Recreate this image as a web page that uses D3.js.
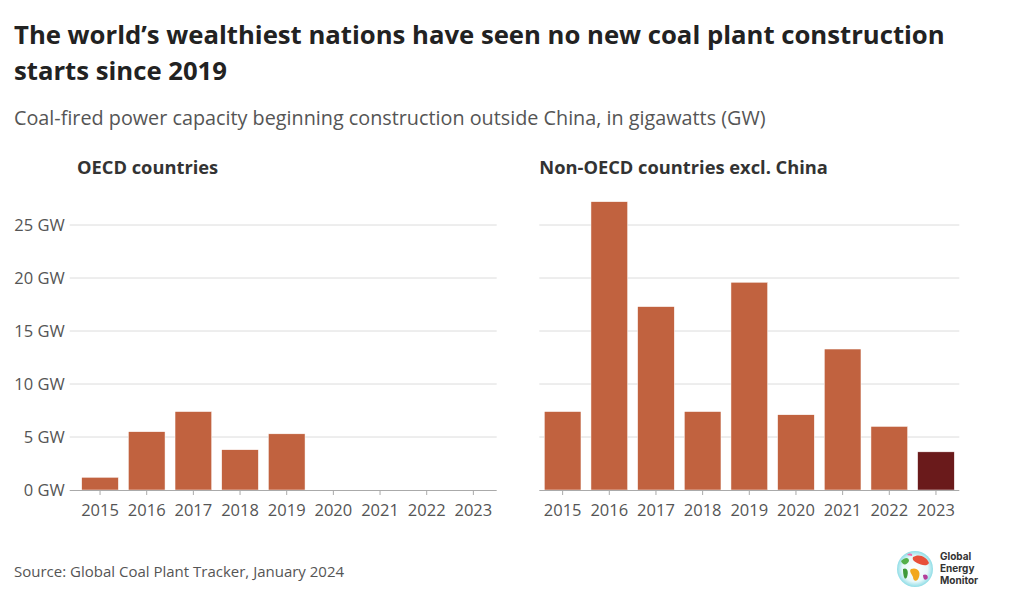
<!DOCTYPE html>
<html><head><meta charset="utf-8">
<script src="https://cdn.jsdelivr.net/npm/d3@7"></script>
<style>
body{margin:0;background:#fff;}
svg{display:block;font-family:"Open Sans",sans-serif;}
</style></head>
<body>
<svg id="chart" width="1024" height="604"></svg>
<script>
const years = ["2015","2016","2017","2018","2019","2020","2021","2022","2023"];
const oecdValues = [1.2, 5.5, 7.4, 3.8, 5.3, 0, 0, 0, 0];
const nonOecdValues = [7.4, 27.2, 17.3, 7.4, 19.6, 7.1, 13.3, 6.0, 3.6];
const yTicks = [0, 5, 10, 15, 20, 25];
const panelTitles = ["OECD countries", "Non-OECD countries excl. China"];

const svg = d3.select("#chart");
svg.append("rect").attr("width",1024).attr("height",604).attr("fill","#fff");

svg.append("text").attr("x",14).attr("y",44).attr("font-size",25.7).attr("font-weight",700).attr("fill","#222")
  .text("The world\u2019s wealthiest nations have seen no new coal plant construction");
svg.append("text").attr("x",14).attr("y",80).attr("font-size",25.7).attr("font-weight",700).attr("fill","#222")
  .text("starts since 2019");
svg.append("text").attr("x",14).attr("y",125).attr("font-size",19.8).attr("fill","#555")
  .text("Coal-fired power capacity beginning construction outside China, in gigawatts (GW)");

const y = d3.scaleLinear().domain([0,25]).range([490,225]);

function panel(values, x0, x1, title, showY, highlightLast){
  const x = d3.scaleBand().domain(years).range([x0,x1]).paddingInner(0.214).paddingOuter(0.107);
  const g = svg.append("g");
  const gridStart = showY ? x0-7 : x0;
  g.selectAll("line.grid").data(yTicks.filter(t=>t>0)).join("line")
    .attr("x1",gridStart).attr("x2",x1).attr("y1",d=>y(d)).attr("y2",d=>y(d))
    .attr("stroke","#dcdcdc").attr("stroke-width",1);
  if(showY){
    const ya = g.append("g").attr("transform",`translate(${x0-7},0)`)
      .call(d3.axisLeft(y).tickValues(yTicks).tickSize(0).tickPadding(5).tickFormat(d=>d+" GW"));
    ya.select(".domain").remove();
    ya.selectAll("text").attr("font-size",16.5).attr("fill","#555").attr("font-family","Open Sans, sans-serif");
  }
  g.selectAll("rect.bar").data(values).join("rect")
    .attr("x",(d,i)=>x(years[i])).attr("width",x.bandwidth())
    .attr("y",d=>y(d)).attr("height",d=>y(0)-y(d))
    .attr("fill",(d,i)=> highlightLast && i===values.length-1 ? "#6a1a1b" : "#c1623f")
    .attr("stroke","#fff").attr("stroke-width",0.5);
  const xa = g.append("g").attr("transform",`translate(0,${y(0)})`)
    .call(d3.axisBottom(x).tickSize(5).tickPadding(9));
  xa.select(".domain").attr("d",`M${showY?x0-7:x0},0.5H${x1}`).attr("stroke","#aaa");
  xa.selectAll(".tick line").attr("stroke","#aaa");
  xa.selectAll("text").attr("font-size",16.5).attr("fill","#555").attr("font-family","Open Sans, sans-serif");
  svg.append("text").attr("x", showY ? 77 : x0).attr("y",174).attr("font-size",18.3).attr("font-weight",700)
    .attr("fill","#333").text(title);
}
panel(oecdValues, 76.7, 496.7, panelTitles[0], true, false);
panel(nonOecdValues, 539.3, 959.3, panelTitles[1], false, true);

svg.append("text").attr("x",14).attr("y",577).attr("font-size",15).attr("fill","#555")
  .text("Source: Global Coal Plant Tracker, January 2024");

// logo
const lg = svg.append("g").attr("transform","translate(915,569)");
const defs = svg.append("defs");
const rg = defs.append("radialGradient").attr("id","glob");
rg.append("stop").attr("offset","0%").attr("stop-color","#ffffff");
rg.append("stop").attr("offset","70%").attr("stop-color","#e8f8fa");
rg.append("stop").attr("offset","100%").attr("stop-color","#8fdde6");
lg.append("circle").attr("r",18).attr("fill","url(#glob)");
lg.append("path").attr("d","M-2,-12 C4,-16 12,-12 14,-6 C12,-2 6,-4 2,-6 C-1,-8 -3,-9 -2,-12Z").attr("fill","#e8503a");
lg.append("path").attr("d","M-14,-8 C-10,-12 -6,-12 -6,-8 C-8,-4 -12,-3 -14,-8Z").attr("fill","#54b04a");
lg.append("path").attr("d","M-12,0 C-8,-2 -6,2 -8,8 C-10,12 -12,8 -12,0Z").attr("fill","#3f9a3a");
lg.append("path").attr("d","M-4,0 C2,-2 6,2 4,8 C2,14 -2,12 -2,8 C-4,4 -6,2 -4,0Z").attr("fill","#f2a81d");
lg.append("path").attr("d","M8,6 C12,4 14,8 12,10 C10,12 8,10 8,6Z").attr("fill","#b33f9a");
lg.append("path").attr("d","M-8,-14 C-6,-16 -2,-16 -3,-13Z").attr("fill","#f06aa8");
const lt = svg.append("g").attr("font-family","Inter, Roboto, sans-serif").attr("font-weight",700).attr("font-size",10).attr("fill","#333");
lt.append("text").attr("x",940).attr("y",560).text("Global");
lt.append("text").attr("x",940).attr("y",572).text("Energy");
lt.append("text").attr("x",940).attr("y",584).text("Monitor");
</script>
</body></html>
